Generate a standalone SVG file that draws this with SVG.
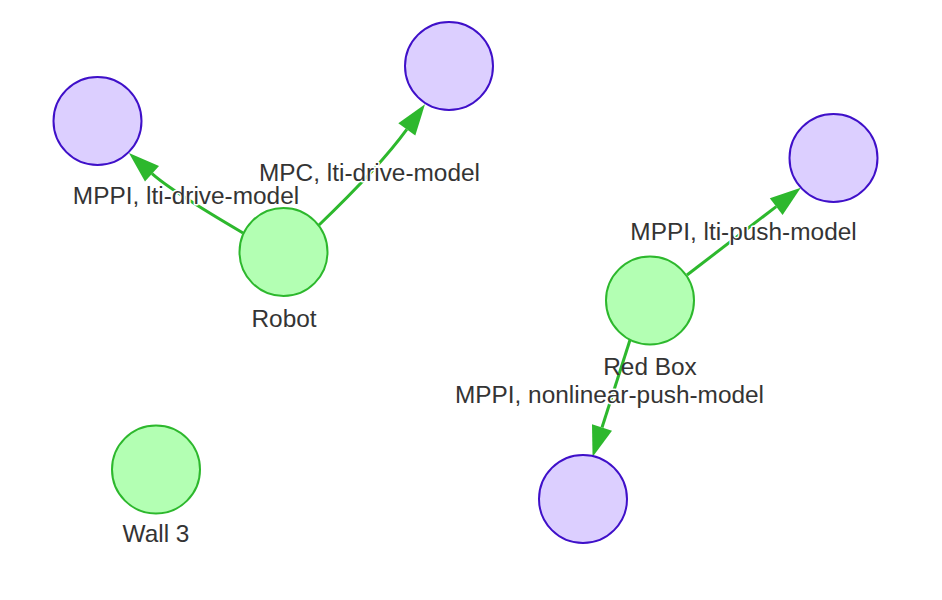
<svg xmlns="http://www.w3.org/2000/svg" width="942" height="600" viewBox="0 0 942 600">
<style>
.goal{fill:#dccfff;stroke:#3f10c9;stroke-width:2}
.obj{fill:#b3ffb3;stroke:#2db82d;stroke-width:2}
.edge{fill:none;stroke:#2db82d;stroke-width:3}
.lbl{font-family:"Liberation Sans",Arial,sans-serif;font-size:24.4px;fill:#343434;text-anchor:middle}
.elbl{stroke:#ffffff;stroke-width:3;paint-order:stroke;stroke-linejoin:round}
</style>
<defs>
<marker id="arr" markerUnits="userSpaceOnUse" markerWidth="32" markerHeight="22" refX="0" refY="10.5" orient="auto" overflow="visible">
<path d="M0,0 L31,10.5 L0,21 Z" fill="#2db82d"/>
</marker>
</defs>
<rect width="942" height="600" fill="#ffffff"/>
<g id="connectors">
<path class="edge" d="M243,233 Q171.3,191 152,173.7" marker-end="url(#arr)"/>
<path class="edge" d="M319,225 Q379.6,166.9 406.8,129.4" marker-end="url(#arr)"/>
<path class="edge" d="M687,275 L776.2,206.6" marker-end="url(#arr)"/>
<path class="edge" d="M630,340 L602,427.5" marker-end="url(#arr)"/>
<text class="lbl elbl" x="186" y="204">MPPI, lti-drive-model</text>
<text class="lbl elbl" x="369.5" y="181">MPC, lti-drive-model</text>
<text class="lbl elbl" x="743.5" y="240">MPPI, lti-push-model</text>
<text class="lbl elbl" x="609.5" y="403">MPPI, nonlinear-push-model</text>
</g>
<g id="goal1"><circle class="goal" cx="97.5" cy="121" r="44"/></g>
<g id="goal2"><circle class="goal" cx="449" cy="66" r="44"/></g>
<g id="goal3"><circle class="goal" cx="833.5" cy="158" r="44"/></g>
<g id="goal4"><circle class="goal" cx="583" cy="499" r="44"/></g>
<g id="robot"><circle class="obj" cx="283.5" cy="252" r="44"/><text class="lbl" x="284" y="327">Robot</text></g>
<g id="redbox"><circle class="obj" cx="650" cy="300.5" r="44"/><text class="lbl" x="650" y="375">Red Box</text></g>
<g id="wall3"><circle class="obj" cx="156" cy="469.5" r="44"/><text class="lbl" x="156" y="542">Wall 3</text></g>
</svg>
